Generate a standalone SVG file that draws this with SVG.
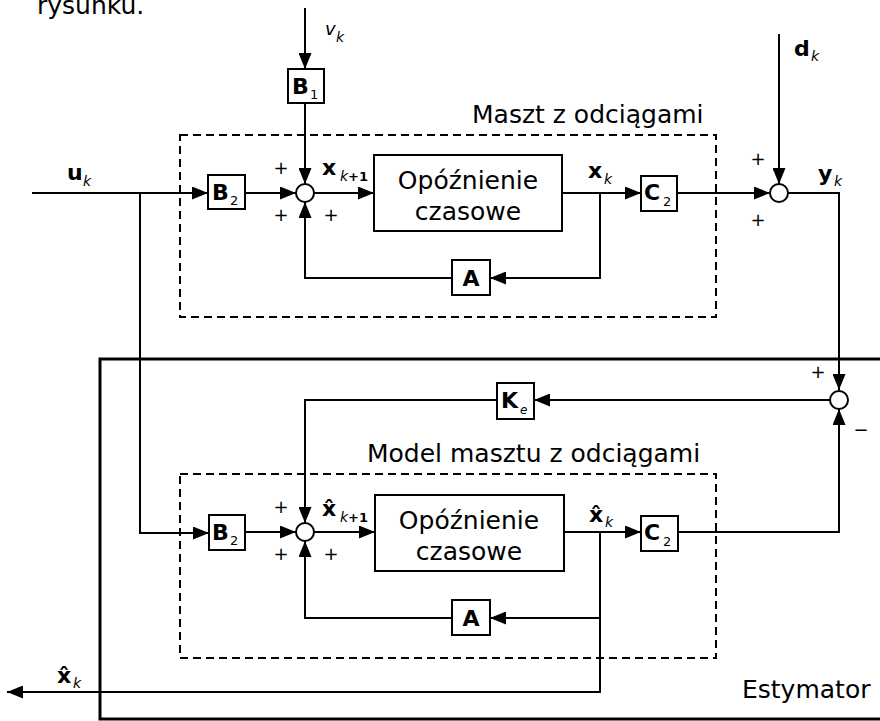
<svg xmlns="http://www.w3.org/2000/svg" width="880" height="721" viewBox="0 0 880 721">
<defs>
<marker id="arr" markerUnits="userSpaceOnUse" markerWidth="16" markerHeight="13" refX="16" refY="6.5" orient="auto">
<path d="M0,0 L16,6.5 L0,13 z" fill="#000"/>
</marker>
<style>
text{font-family:"DejaVu Sans","Liberation Sans",sans-serif;fill:#000}
.lbl{font-size:25px}
.bx{fill:#fff;stroke:#000;stroke-width:2}
.dash{fill:none;stroke:#000;stroke-width:2;stroke-dasharray:8 5}
.ln{fill:none;stroke:#000;stroke-width:2}
.ar{fill:none;stroke:#000;stroke-width:2;marker-end:url(#arr)}
.sum{fill:#fff;stroke:#000;stroke-width:2}
.bm{font-size:22px;font-weight:bold}
.sb{font-size:13px}
.si{font-size:14px;font-style:italic}
.pl{font-size:18px;text-anchor:middle}
.mid{text-anchor:middle}
</style>
</defs>
<rect width="880" height="721" fill="#fff"/>
<text class="lbl" x="37" y="14">rysunku.</text>

<g id="estymator">
<rect x="100" y="359" width="800" height="360" fill="none" stroke="#000" stroke-width="3"/>
<text class="lbl" x="742" y="698">Estymator</text>
</g>
<g id="maszt">
<rect class="dash" x="180" y="135" width="536" height="182"/>
<text class="lbl" x="472" y="123">Maszt z odciągami</text>
</g>
<g id="model">
<rect class="dash" x="180" y="474" width="536" height="184"/>
<text class="lbl" x="367" y="462">Model masztu z odciągami</text>
</g>

<g id="connectors">
<line class="ar" x1="305" y1="8" x2="305" y2="69"/>
<line class="ar" x1="305" y1="103" x2="305" y2="184"/>
<line class="ar" x1="32" y1="193" x2="208" y2="193"/>
<polyline class="ar" points="140,193 140,533 209,533"/>
<line class="ar" x1="245" y1="193" x2="296" y2="193"/>
<line class="ar" x1="314" y1="193" x2="374" y2="193"/>
<line class="ar" x1="562" y1="193" x2="641" y2="193"/>
<polyline class="ar" points="600,193 600,278 490,278"/>
<polyline class="ar" points="452,278 305,278 305,202"/>
<line class="ar" x1="677" y1="193" x2="770" y2="193"/>
<line class="ar" x1="779" y1="34" x2="779" y2="184"/>
<polyline class="ar" points="788,193 839,193 839,390"/>
<line class="ar" x1="830" y1="400" x2="534" y2="400"/>
<polyline class="ar" points="497,400 305,400 305,523"/>
<line class="ar" x1="245" y1="532" x2="296" y2="532"/>
<line class="ar" x1="314" y1="532" x2="375" y2="532"/>
<line class="ar" x1="564" y1="532" x2="641" y2="532"/>
<polyline class="ar" points="600,532 600,692 7,692"/>
<line class="ar" x1="600" y1="618" x2="490" y2="618"/>
<polyline class="ar" points="452,618 305,618 305,541"/>
<polyline class="ar" points="678,532 839,532 839,409"/>
</g>

<g id="labels">
<text x="325" y="35" style="font-size:18px;font-style:italic">v</text>
<text class="si" x="336" y="42">k</text>
<text class="bm" x="67" y="180">u</text>
<text class="si" x="83" y="186">k</text>
<text class="bm" x="322" y="175">x</text>
<text class="si" x="340" y="181">k<tspan style="font-style:normal;font-weight:bold;font-size:13px">+1</tspan></text>
<text class="bm" x="588" y="178">x</text>
<text class="si" x="604" y="184">k</text>
<text class="bm" x="794" y="56">d</text>
<text class="si" x="811" y="61">k</text>
<text class="bm" x="818" y="181">y</text>
<text class="si" x="834" y="186">k</text>
<text class="bm" x="322" y="516">x̂</text>
<text class="si" x="340" y="522">k<tspan style="font-style:normal;font-weight:bold;font-size:13px">+1</tspan></text>
<text class="bm" x="589" y="522">x̂</text>
<text class="si" x="605" y="527">k</text>
<text class="bm" x="57" y="683">x̂</text>
<text class="si" x="73" y="688">k</text>
<text class="pl" x="281" y="174">+</text>
<text class="pl" x="281" y="221">+</text>
<text class="pl" x="331" y="221">+</text>
<text class="pl" x="758" y="165">+</text>
<text class="pl" x="758" y="226">+</text>
<text class="pl" x="281" y="513">+</text>
<text class="pl" x="281" y="560">+</text>
<text class="pl" x="331" y="560">+</text>
<text class="pl" x="818" y="378">+</text>
<text class="pl" x="861" y="436">−</text>
</g>

<g id="B1">
<rect class="bx" x="288" y="69" width="36" height="34"/>
<text class="bm" x="292" y="94">B</text><text class="sb" x="310" y="99">1</text>
</g>
<g id="B2">
<rect class="bx" x="208" y="175" width="37" height="34"/>
<text class="bm" x="212" y="200">B</text><text class="sb" x="230" y="205">2</text>
</g>
<g id="sum1"><circle class="sum" cx="305" cy="193" r="9"/></g>
<g id="delay1">
<rect class="bx" x="374" y="155" width="188" height="76"/>
<text class="lbl mid" x="468" y="189">Opóźnienie</text>
<text class="lbl mid" x="468" y="220">czasowe</text>
</g>
<g id="A1">
<rect class="bx" x="452" y="260" width="38" height="35"/>
<text class="bm mid" x="471" y="286">A</text>
</g>
<g id="C2">
<rect class="bx" x="641" y="176" width="36" height="35"/>
<text class="bm" x="644" y="200">C</text><text class="sb" x="663" y="206">2</text>
</g>
<g id="sum2"><circle class="sum" cx="779" cy="193" r="9"/></g>
<g id="sum3"><circle class="sum" cx="839" cy="400" r="9"/></g>
<g id="Ke">
<rect class="bx" x="497" y="383" width="37" height="36"/>
<text class="bm" x="501" y="408">K</text><text class="si" x="520" y="414" style="font-size:12px">e</text>
</g>
<g id="B2m">
<rect class="bx" x="209" y="515" width="36" height="35"/>
<text class="bm" x="212" y="540">B</text><text class="sb" x="230" y="545">2</text>
</g>
<g id="sum4"><circle class="sum" cx="305" cy="532" r="9"/></g>
<g id="delay2">
<rect class="bx" x="375" y="495" width="189" height="76"/>
<text class="lbl mid" x="469" y="529">Opóźnienie</text>
<text class="lbl mid" x="469" y="560">czasowe</text>
</g>
<g id="A2">
<rect class="bx" x="452" y="600" width="38" height="35"/>
<text class="bm mid" x="471" y="626">A</text>
</g>
<g id="C2m">
<rect class="bx" x="641" y="516" width="37" height="35"/>
<text class="bm" x="644" y="540">C</text><text class="sb" x="663" y="546">2</text>
</g>
</svg>
